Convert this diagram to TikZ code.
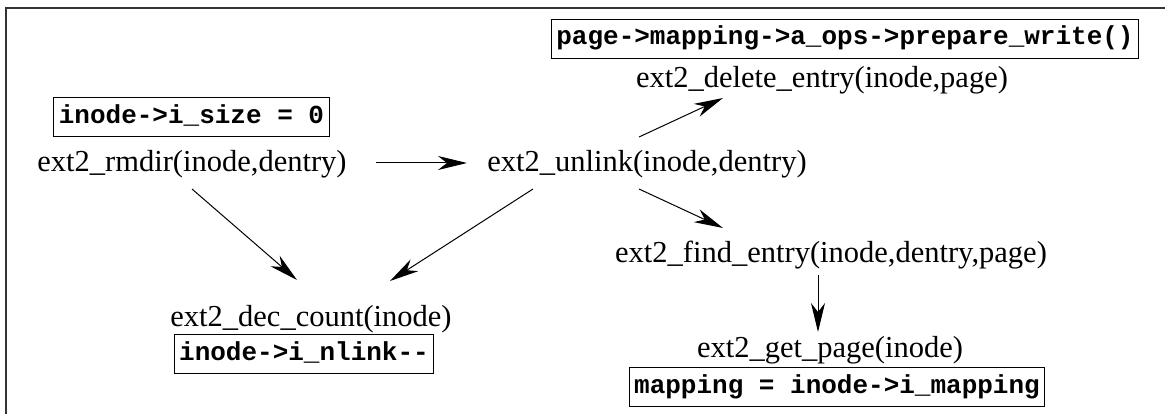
\documentclass[tikz,border=0pt]{standalone}
\usepackage{fontspec}
\setmainfont{Liberation Serif}
\newfontfamily\monofam{Liberation Mono}
\usetikzlibrary{arrows.meta,calc}
\tikzset{
  fn/.style={anchor=base,inner sep=0pt,font=\fontsize{30.5}{34}\selectfont},
  codebox/.style={draw,line width=0.9pt,inner xsep=5pt,inner ysep=7pt,text height=19pt,text depth=6pt,font=\monofam\bfseries\fontsize{26}{30}\selectfont},
  arr/.style={line width=1pt,-{Stealth[length=29pt,width=14pt,inset=9pt]}},
  frame/.style={line width=1.3pt,black!80}
}
\begin{document}
\begin{tikzpicture}[x=1pt,y=-1pt]
\useasboundingbox (0,0) rectangle (1165,414);
\coordinate (ftop) at (1165,8);
\coordinate (fcorner) at (6,8);
\coordinate (fbot) at (6,414);
\draw[frame] (ftop) -- (fcorner) -- (fbot);

\node[fn] (rmdir) at (192,172) {ext2\_rmdir(inode,dentry)};
\node[fn] (unlink) at (647,172) {ext2\_unlink(inode,dentry)};
\node[fn] (delete) at (822,88) {ext2\_delete\_entry(inode,page)};
\node[fn] (find) at (831,262) {ext2\_find\_entry(inode,dentry,page)};
\node[fn] (getpage) at (830,357) {ext2\_get\_page(inode)};
\node[fn] (dec) at (311,326) {ext2\_dec\_count(inode)};

\node[codebox] (size) at (191.5,117) {inode->i\_size = 0};
\node[codebox] (prep) at (845,38.5) {page->mapping->a\_ops->prepare\_write()};
\node[codebox] (nlink) at (304,354) {inode->i\_nlink--};
\node[codebox] (map) at (837,387) {mapping = inode->i\_mapping};

\draw[arr] ($(rmdir.base)+(184,-9)$) -- ($(unlink.base)+(-180,-9)$);
\draw[arr] ($(rmdir.base)+(0,17)$) -- ($(dec.base)+(-14,-46)$);
\draw[arr] ($(unlink.base)+(-114,17)$) -- ($(dec.base)+(79,-45)$);
\draw[arr] ($(unlink.base)+(-8,-35)$) -- ($(delete.base)+(-99,10)$);
\draw[arr] ($(unlink.base)+(-8,17)$) -- ($(find.base)+(-108,-34)$);
\draw[arr] ($(find.base)+(-13,13)$) -- ($(getpage.base)+(-12,-25)$);
\end{tikzpicture}
\end{document}
